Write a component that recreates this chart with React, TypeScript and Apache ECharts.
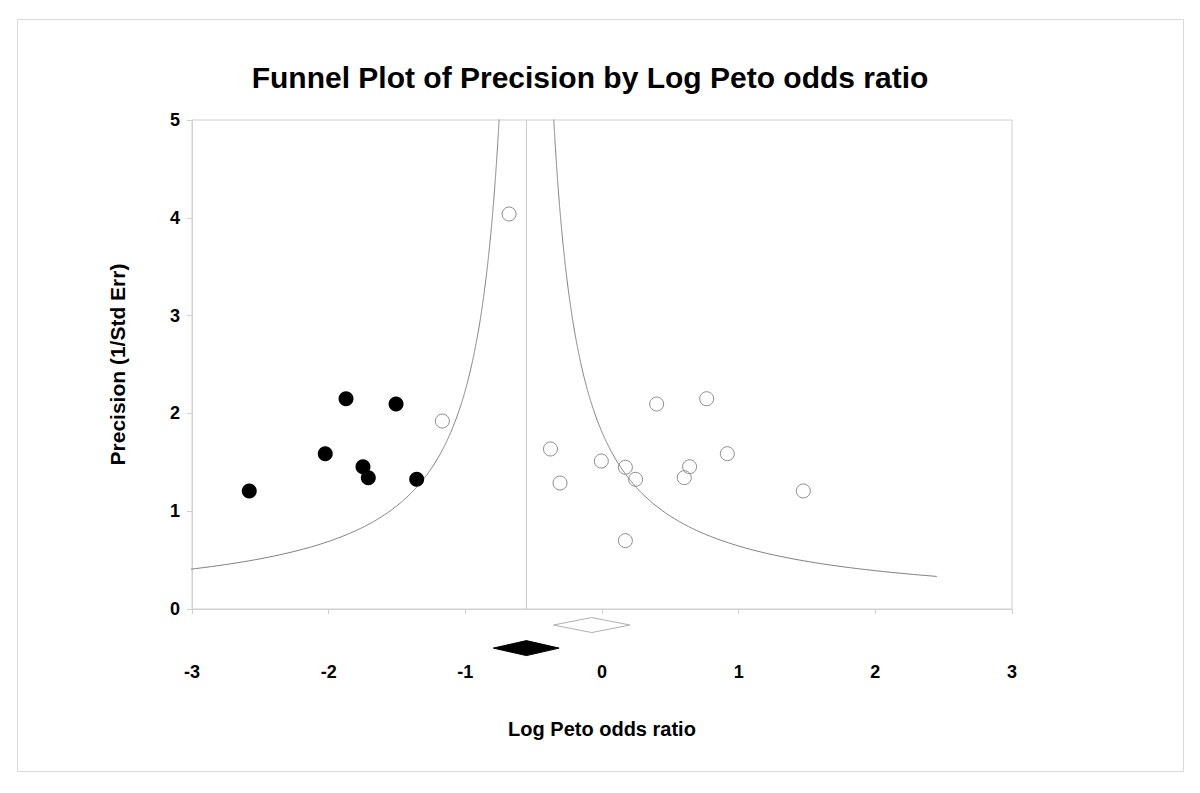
import React, { useEffect, useRef } from "react";
import * as echarts from "echarts";

// Observed studies (open circles): [log Peto odds ratio, precision]
const observedX = [-0.68, -1.168, -0.377, -0.307, -0.005, 0.171, 0.246, 0.171, 0.4, 0.766, 0.641, 0.602, 0.917, 1.473];
const observedY = [4.039, 1.922, 1.636, 1.288, 1.513, 1.449, 1.326, 0.699, 2.096, 2.15, 1.455, 1.343, 1.588, 1.207];

// Imputed studies (filled circles)
const imputedX = [-1.873, -1.507, -2.025, -1.749, -1.71, -2.581, -1.356];
const imputedY = [2.15, 2.096, 1.588, 1.455, 1.343, 1.207, 1.326];

// Pooled estimates: [lower, point, upper]
const observedDiamond = [-0.356, -0.075, 0.205];
const adjustedDiamond = [-0.795, -0.553, -0.314];

// Funnel centre and half-width factor (x = centre ± factor / precision)
const funnelCentre = -0.553;
const funnelFactor = 1.0;
const funnelMinPrecision = 0.333;

const xTicks = [-3, -2, -1, 0, 1, 2, 3];
const yTicks = [0, 1, 2, 3, 4, 5];

const FONT = '"Liberation Sans", Arial, Helvetica, sans-serif';

export default function App() {
  const ref = useRef<HTMLDivElement>(null);

  useEffect(() => {
    if (!ref.current) return;
    const chart = echarts.init(ref.current, undefined, { renderer: "svg" });

    const precisions: number[] = [];
    for (let p = funnelMinPrecision; p <= 6; p += 0.01) precisions.push(p);
    const leftCurve = precisions.map((p) => [funnelCentre - funnelFactor / p, p]);
    const rightCurve = precisions.map((p) => [funnelCentre + funnelFactor / p, p]);

    const diamondRender = (levelY: number, filled: boolean) => (params: any, api: any) => {
      const lo = api.coord([api.value(0), levelY]);
      const mid = api.coord([api.value(1), levelY]);
      const hi = api.coord([api.value(2), levelY]);
      const h = 7.5;
      return {
        type: "polygon",
        shape: {
          points: [
            [lo[0], lo[1]],
            [mid[0], mid[1] - h],
            [hi[0], hi[1]],
            [mid[0], mid[1] + h],
          ],
        },
        style: filled
          ? { fill: "#000", stroke: "#000", lineWidth: 1 }
          : { fill: "#fff", stroke: "#b0b0b0", lineWidth: 1 },
      };
    };

    chart.setOption({
      animation: false,
      backgroundColor: "#ffffff",
      graphic: [
        {
          type: "rect",
          shape: { x: 17.5, y: 19.5, width: 1166, height: 752 },
          style: { fill: "none", stroke: "#d9d9d9", lineWidth: 1 },
          z: -10,
        },
        {
          type: "text",
          x: 590,
          y: 77,
          style: {
            text: "Funnel Plot of Precision by Log Peto odds ratio",
            font: `bold 30px ${FONT}`,
            fill: "#000",
            textAlign: "center",
            textVerticalAlign: "middle",
          },
        },
      ],
      grid: {
        left: 192,
        right: 188,
        top: 120,
        bottom: 184,
        show: true,
        borderColor: "#d0d0d0",
        borderWidth: 1,
      },
      xAxis: {
        type: "value",
        min: xTicks[0],
        max: xTicks[xTicks.length - 1],
        interval: 1,
        name: "Log Peto odds ratio",
        nameLocation: "middle",
        nameGap: 110,
        nameTextStyle: { fontFamily: FONT, fontWeight: "bold", fontSize: 20, color: "#000" },
        axisLine: { show: true, onZero: false, lineStyle: { color: "#d0d0d0" } },
        axisTick: { show: true, length: 5, lineStyle: { color: "#d0d0d0" } },
        axisLabel: { margin: 54, fontFamily: FONT, fontWeight: "bold", fontSize: 18, color: "#000" },
        splitLine: { show: false },
      },
      yAxis: {
        type: "value",
        min: yTicks[0],
        max: yTicks[yTicks.length - 1],
        interval: 1,
        name: "Precision (1/Std Err)",
        nameLocation: "middle",
        nameGap: 64,
        nameRotate: 90,
        nameTextStyle: { fontFamily: FONT, fontWeight: "bold", fontSize: 21, color: "#000" },
        axisLine: { show: true, onZero: false, lineStyle: { color: "#d0d0d0" } },
        axisTick: { show: true, length: 5, lineStyle: { color: "#d0d0d0" } },
        axisLabel: { margin: 12, fontFamily: FONT, fontWeight: "bold", fontSize: 18, color: "#000" },
        splitLine: { show: false },
      },
      series: [
        {
          type: "line",
          data: [
            [funnelCentre, yTicks[0]],
            [funnelCentre, yTicks[yTicks.length - 1]],
          ],
          symbol: "none",
          lineStyle: { color: "#c8c8c8", width: 1 },
          silent: true,
          z: 1,
        },
        {
          type: "line",
          data: leftCurve,
          symbol: "none",
          smooth: false,
          lineStyle: { color: "#808080", width: 1 },
          silent: true,
          z: 2,
        },
        {
          type: "line",
          data: rightCurve,
          symbol: "none",
          smooth: false,
          lineStyle: { color: "#808080", width: 1 },
          silent: true,
          z: 2,
        },
        {
          type: "scatter",
          data: observedX.map((x, i) => [x, observedY[i]]),
          symbol: "circle",
          symbolSize: 14,
          itemStyle: { color: "rgba(255,255,255,0)", borderColor: "#8c8c8c", borderWidth: 1, opacity: 1 },
          z: 3,
        },
        {
          type: "scatter",
          data: imputedX.map((x, i) => [x, imputedY[i]]),
          symbol: "circle",
          symbolSize: 15,
          itemStyle: { color: "#000", opacity: 1 },
          z: 4,
        },
        {
          type: "custom",
          clip: false,
          data: [observedDiamond],
          renderItem: diamondRender(-0.164, false),
          z: 5,
        },
        {
          type: "custom",
          clip: false,
          data: [adjustedDiamond],
          renderItem: diamondRender(-0.4, true),
          z: 5,
        },
      ],
    });

    return () => chart.dispose();
  }, []);

  return (
    <div
      ref={ref}
      style={{ position: "fixed", left: 0, top: 0, width: 1200, height: 793, background: "#fff" }}
    />
  );
}
